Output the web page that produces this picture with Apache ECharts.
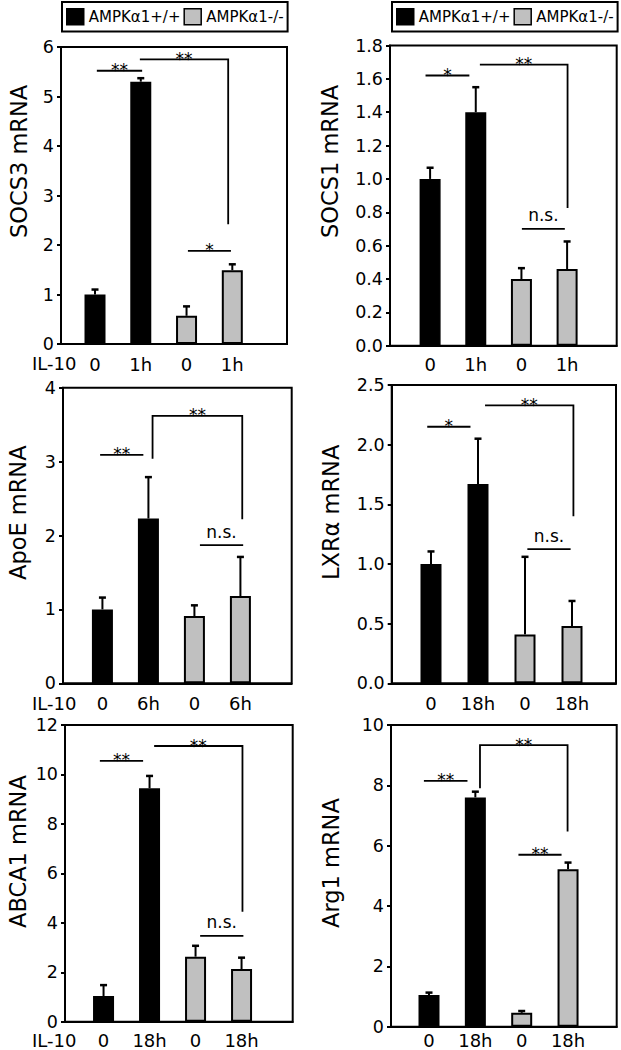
<!DOCTYPE html>
<html>
<head>
<meta charset="utf-8">
<script src="https://cdn.jsdelivr.net/npm/echarts@6/dist/echarts.min.js"></script>
<style>
html,body{margin:0;padding:0;background:#fff;}
#chart{width:621px;height:1050px;}
</style>
</head>
<body>
<div id="chart"></div>
<script>
// ---------- DATA ----------
const seriesNames = ['AMPKα1+/+', 'AMPKα1-/-'];
const genes = ['SOCS3 mRNA', 'SOCS1 mRNA', 'ApoE mRNA', 'LXRα mRNA', 'ABCA1 mRNA', 'Arg1 mRNA'];
const xTickLabels = [
  ['0', '1h', '0', '1h'],
  ['0', '1h', '0', '1h'],
  ['0', '6h', '0', '6h'],
  ['0', '18h', '0', '18h'],
  ['0', '18h', '0', '18h'],
  ['0', '18h', '0', '18h']
];
const rowLabel = 'IL-10';
// AMPKα1+/+ (black) : [0, treated]
const wtMean = [[1.0, 5.3], [1.0, 1.40], [1.0, 2.23], [1.0, 1.67], [1.04, 9.44], [1.05, 7.60]];
const wtErr  = [[0.10, 0.07], [0.067, 0.15], [0.16, 0.56], [0.105, 0.38], [0.44, 0.50], [0.08, 0.19]];
// AMPKα1-/- (gray) : [0, treated]
const koMean = [[0.57, 1.49], [0.40, 0.46], [0.91, 1.18], [0.41, 0.48], [2.63, 2.13], [0.46, 5.22]];
const koErr  = [[0.19, 0.12], [0.065, 0.165], [0.145, 0.53], [0.65, 0.21], [0.44, 0.46], [0.06, 0.22]];
const yMax  = [6, 1.8, 4, 2.5, 12, 10];
const yStep = [1, 0.2, 1, 0.5, 2, 2];
const yTickLabels = [
  ['0', '1', '2', '3', '4', '5', '6'],
  ['0.0', '0.2', '0.4', '0.6', '0.8', '1.0', '1.2', '1.4', '1.6', '1.8'],
  ['0', '1', '2', '3', '4'],
  ['0.0', '0.5', '1.0', '1.5', '2.0', '2.5'],
  ['0', '2', '4', '6', '8', '10', '12'],
  ['0', '2', '4', '6', '8', '10']
];
// significance brackets: [xFrom, xTo, y, leftDropTo, rightDropTo, label]
const brackets = [
  [[1.04, 2.03, 5.52, null, null, '**'], [1.98, 3.91, 5.75, null, 2.42, '**'], [3.03, 3.97, 1.88, null, null, '*']],
  [[0.90, 1.86, 1.62, null, null, '*'], [2.09, 4.01, 1.685, null, 0.826, '**'], [3.01, 3.95, 0.70, null, null, 'n.s.']],
  [[0.95, 1.89, 3.09, null, null, '**'], [2.09, 4.04, 3.62, 3.04, 2.22, '**'], [3.12, 4.06, 1.87, null, null, 'n.s.']],
  [[0.92, 1.84, 2.15, null, null, '*'], [2.15, 4.03, 2.33, null, 1.40, '**'], [3.05, 3.97, 1.125, null, null, 'n.s.']],
  [[0.92, 1.86, 10.55, null, null, '**'], [2.10, 4.02, 11.15, null, 4.45, '**'], [3.10, 4.04, 3.47, null, null, 'n.s.']],
  [[0.89, 1.83, 8.15, null, null, '**'], [2.10, 3.99, 9.33, 7.90, 6.47, '**'], [2.93, 3.86, 5.70, null, null, '**']]
];

// ---------- LAYOUT ----------
const FONT = 'DejaVu Sans';
const gridBox = [
  [61, 47, 226, 297],
  [390, 45.5, 226.7, 300.2],
  [63, 387.7, 228.7, 295.6],
  [391.7, 385, 224.3, 298.3],
  [65, 725, 227.7, 296.7],
  [391, 725, 225.7, 301.7]
];
const xRange = [[0.257, 5.195], [0.122, 5.086], [0.143, 5.115], [0.164, 4.936], [0.162, 5.112], [0.18, 5.05]];
const xLabelMargin = [11, 10, 11, 11, 9.5, 4.5];
const yTitleAt = [[19, 238], [330, 238], [18, 580], [331, 580], [18, 928], [331, 928]];
const rowLabelY = [363.7, 703, 1040.2];

const grids = [], xAxes = [], yAxes = [], series = [], graphics = [];

function errItem(params, api) {
  const x = api.value(0), m = api.value(1), e = api.value(2);
  const base = api.coord([x, m]);
  const top = api.coord([x, m + e]);
  return {
    type: 'group',
    children: [
      { type: 'line', shape: { x1: base[0], y1: base[1], x2: top[0], y2: top[1] }, style: { stroke: '#000', lineWidth: 2 } },
      { type: 'line', shape: { x1: top[0] - 3.5, y1: top[1], x2: top[0] + 3.5, y2: top[1] }, style: { stroke: '#000', lineWidth: 2.5 } }
    ]
  };
}

function bracketItemFor(p) {
  return function (params, api) {
    const b = brackets[p][params.dataIndex];
    const pts = [];
    if (b[3] != null) pts.push(api.coord([b[0], b[3]]));
    pts.push(api.coord([b[0], b[2]]));
    pts.push(api.coord([b[1], b[2]]));
    if (b[4] != null) pts.push(api.coord([b[1], b[4]]));
    const mid = api.coord([(b[0] + b[1]) / 2, b[2]]);
    const isStar = b[5].indexOf('*') >= 0;
    return {
      type: 'group',
      children: [
        { type: 'polyline', shape: { points: pts }, style: { stroke: '#000', lineWidth: 1.8, fill: null } },
        {
          type: 'text', x: mid[0], y: mid[1] + (isStar ? -0.5 : -13.5),
          style: { text: b[5], fill: '#000', font: '17px ' + FONT, align: 'center', verticalAlign: 'middle' }
        }
      ]
    };
  };
}

for (let i = 0; i < 6; i++) {
  const g = gridBox[i];
  grids.push({ left: g[0], top: g[1], width: g[2], height: g[3], show: true, borderColor: '#000', borderWidth: 2, backgroundColor: 'transparent' });
  xAxes.push({
    gridIndex: i, type: 'value', min: xRange[i][0], max: xRange[i][1],
    axisLine: { show: true, onZero: false, lineStyle: { color: '#000', width: 2 } },
    axisTick: { show: false }, splitLine: { show: false },
    axisLabel: {
      customValues: [1, 2, 3, 4],
      formatter: (v) => xTickLabels[i][Math.round(v) - 1] || '',
      color: '#000', fontSize: 18, fontFamily: FONT, margin: xLabelMargin[i]
    }
  });
  yAxes.push({
    gridIndex: i, type: 'value', min: 0, max: yMax[i], interval: yStep[i],
    axisLine: { show: true, lineStyle: { color: '#000', width: 2 } },
    axisTick: { show: true, inside: false, length: 4, lineStyle: { color: '#000', width: 2 } },
    splitLine: { show: false },
    axisLabel: {
      formatter: (v) => yTickLabels[i][Math.round(v / yStep[i])],
      color: '#000', fontSize: 17.5, fontFamily: FONT, margin: 7
    }
  });
  series.push({
    type: 'bar', name: seriesNames[0], xAxisIndex: i, yAxisIndex: i,
    data: [[1, wtMean[i][0]], [2, wtMean[i][1]]],
    barWidth: 21, barGap: '-100%',
    itemStyle: { color: '#000', borderColor: '#000', borderWidth: 1.5 },
    silent: true, animation: false
  });
  series.push({
    type: 'bar', name: seriesNames[1], xAxisIndex: i, yAxisIndex: i,
    data: [[3, koMean[i][0]], [4, koMean[i][1]]],
    barWidth: 21, barGap: '-100%',
    itemStyle: { color: '#c0c0c0', borderColor: '#000', borderWidth: 2 },
    silent: true, animation: false
  });
  series.push({
    type: 'custom', xAxisIndex: i, yAxisIndex: i, renderItem: errItem, z: 3,
    data: [[1, wtMean[i][0], wtErr[i][0]], [2, wtMean[i][1], wtErr[i][1]], [3, koMean[i][0], koErr[i][0]], [4, koMean[i][1], koErr[i][1]]],
    silent: true, animation: false
  });
  series.push({
    type: 'custom', xAxisIndex: i, yAxisIndex: i, renderItem: bracketItemFor(i), z: 3,
    data: brackets[i].map(b => [b[0], b[2]]),
    silent: true, animation: false
  });
  graphics.push({
    type: 'text', x: yTitleAt[i][0], y: yTitleAt[i][1], rotation: Math.PI / 2,
    style: { text: genes[i], font: '22.5px ' + FONT, fill: '#000', align: 'left', verticalAlign: 'middle' }
  });
}
rowLabelY.forEach(y => {
  graphics.push({ type: 'text', x: 32, y: y, style: { text: rowLabel, font: '18px ' + FONT, fill: '#000', align: 'left', verticalAlign: 'middle' } });
});

const legendCommon = {
  data: seriesNames, icon: 'rect', itemWidth: 17, itemHeight: 16, itemGap: 3,
  borderColor: '#000', borderWidth: 2, padding: [6, 4, 6, 4], orient: 'horizontal',
  textStyle: { color: '#000', fontSize: 15, fontFamily: FONT },
  itemStyle: { borderColor: '#000', borderWidth: 1.5 },
  selectedMode: false
};

const chart = echarts.init(document.getElementById('chart'), null, { renderer: 'svg', width: 621, height: 1050 });
chart.setOption({
  backgroundColor: '#fff',
  animation: false,
  textStyle: { fontFamily: FONT },
  legend: [
    Object.assign({}, legendCommon, { left: 62, top: 2 }),
    Object.assign({}, legendCommon, { left: 392, top: 2, width: 229 })
  ],
  grid: grids,
  xAxis: xAxes,
  yAxis: yAxes,
  series: series,
  graphic: graphics
});
</script>
</body>
</html>
